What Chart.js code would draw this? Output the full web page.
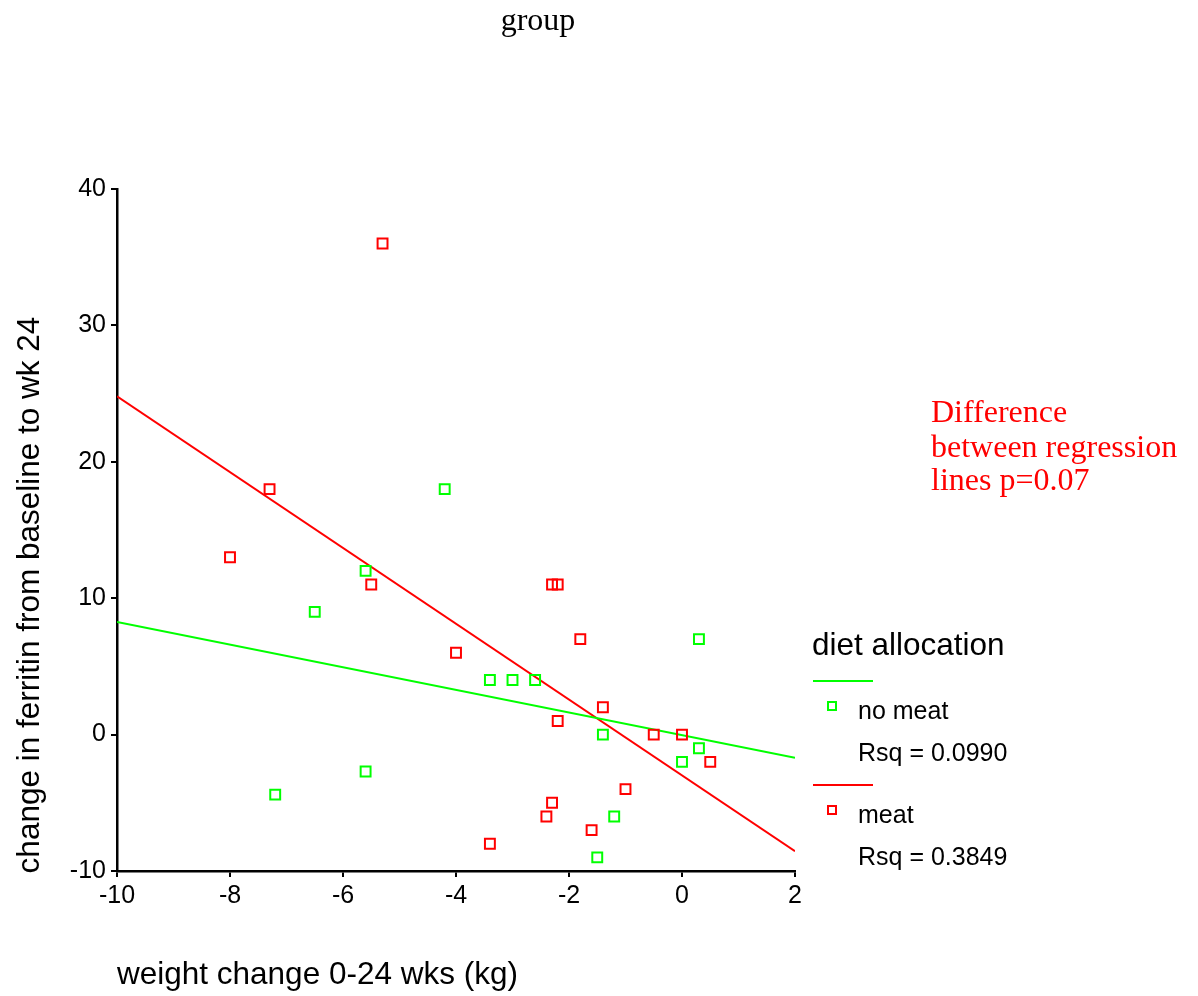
<!DOCTYPE html>
<html>
<head>
<meta charset="utf-8">
<script src="https://cdn.jsdelivr.net/npm/chart.js@4.4.1/dist/chart.umd.min.js"></script>
<style>
  html, body { margin: 0; padding: 0; background: #fff; }
  #wrap { width: 1198px; height: 996px; position: relative; }
</style>
</head>
<body>
<div id="wrap"><canvas id="chart" width="1198" height="996"></canvas></div>
<script>
// weight change (kg) and ferritin change
const noMeatX = [-4.2, -5.6, -6.5, 0.3, -3.4, -3.0, -2.6, -1.4, 0.3, 0.0, -5.6, -7.2, -1.2, -1.5];
const noMeatY = [18, 12, 9, 7, 4, 4, 4, 0, -1, -2, -2.7, -4.4, -6, -9];
const meatX = [-5.3, -7.3, -8.0, -5.5, -4.0, -2.3, -2.2, -1.8, -1.4, -2.2, -0.5, 0.0, 0.5, -1.0, -2.3, -2.4, -1.6, -3.4];
const meatY = [36, 18, 13, 11, 6, 11, 11, 7, 2, 1, 0, 0, -2, -4, -5, -6, -7, -8];

// fitted regression lines, end points at x = -10 and x = 2
const fitX = [-10, 2];
const noMeatFitY = [8.25, -1.7];
const meatFitY = [24.8, -8.55];

const xTicks = [-10, -8, -6, -4, -2, 0, 2];
const yTicks = [-10, 0, 10, 20, 30, 40];

const GREEN = '#00ff00';
const RED = '#ff0000';
const SANS = '"Liberation Sans", Arial, sans-serif';
const SERIF = '"Liberation Serif", "Times New Roman", serif';

const pts = (xs, ys) => xs.map((x, i) => ({ x: x, y: ys[i] }));

// titles, note and legend drawn on top
const textPlugin = {
  id: 'texts',
  afterDraw(chart) {
    const ctx = chart.ctx;
    ctx.save();
    ctx.fillStyle = '#000';
    ctx.textBaseline = 'alphabetic';

    ctx.font = '32px ' + SERIF;
    ctx.textAlign = 'center';
    ctx.fillText('group', 538, 30);

    ctx.fillStyle = RED;
    ctx.textAlign = 'left';
    ctx.font = '32px ' + SERIF;
    ctx.fillText('Difference', 931, 422);
    ctx.fillText('between regression', 931, 457);
    ctx.fillText('lines p=0.07', 931, 490);

    ctx.fillStyle = '#000';
    ctx.font = '31.5px ' + SANS;
    ctx.fillText('weight change 0-24 wks (kg)', 117, 984);

    ctx.save();
    ctx.translate(39, 595);
    ctx.rotate(-Math.PI / 2);
    ctx.textAlign = 'center';
    ctx.fillText('change in ferritin from baseline to wk 24', 0, 0);
    ctx.restore();

    // legend
    ctx.font = '31.5px ' + SANS;
    ctx.textBaseline = 'middle';
    ctx.fillText('diet allocation', 812, 646);
    const items = [
      { color: GREEN, label: 'no meat', rsq: 'Rsq = 0.0990', y: 681 },
      { color: RED, label: 'meat', rsq: 'Rsq = 0.3849', y: 785 }
    ];
    ctx.font = '25px ' + SANS;
    items.forEach(it => {
      ctx.strokeStyle = it.color;
      ctx.lineWidth = 2;
      ctx.beginPath();
      ctx.moveTo(813, it.y);
      ctx.lineTo(873, it.y);
      ctx.stroke();
      ctx.strokeRect(828, it.y + 21, 8, 8);
      ctx.fillStyle = '#000';
      ctx.fillText(it.label, 858, it.y + 31);
      ctx.fillText(it.rsq, 858, it.y + 73);
    });
    ctx.restore();
  }
};

new Chart(document.getElementById('chart'), {
  type: 'scatter',
  data: {
    datasets: [
      {
        label: 'no meat',
        data: pts(noMeatX, noMeatY),
        pointStyle: 'rect',
        pointRadius: 7,
        pointBorderWidth: 2,
        borderColor: GREEN,
        backgroundColor: 'rgba(0,0,0,0)'
      },
      {
        label: 'meat',
        data: pts(meatX, meatY),
        pointStyle: 'rect',
        pointRadius: 7,
        pointBorderWidth: 2,
        borderColor: RED,
        backgroundColor: 'rgba(0,0,0,0)'
      },
      {
        type: 'line',
        label: 'no meat fit',
        data: pts(fitX, noMeatFitY),
        borderColor: GREEN,
        borderWidth: 2,
        pointRadius: 0
      },
      {
        type: 'line',
        label: 'meat fit',
        data: pts(fitX, meatFitY),
        borderColor: RED,
        borderWidth: 2,
        pointRadius: 0
      }
    ]
  },
  options: {
    responsive: false,
    animation: false,
    layout: { padding: { left: 0, top: 189, right: 403, bottom: 0 } },
    plugins: { legend: { display: false }, tooltip: { enabled: false } },
    scales: {
      x: {
        type: 'linear',
        min: -10,
        max: 2,
        afterFit: s => { s.height = 125; },
        afterBuildTicks: s => { s.ticks = xTicks.map(v => ({ value: v })); },
        grid: { drawOnChartArea: false, drawTicks: true, tickLength: 6, color: '#000', lineWidth: 2 },
        border: { display: true, color: '#000', width: 2.5 },
        ticks: { color: '#000', padding: 4, font: { family: SANS, size: 25 }, maxRotation: 0 }
      },
      y: {
        min: -10,
        max: 40,
        afterFit: s => { s.width = 117; },
        afterBuildTicks: s => { s.ticks = yTicks.map(v => ({ value: v })); },
        grid: { drawOnChartArea: false, drawTicks: true, tickLength: 6, color: '#000', lineWidth: 2 },
        border: { display: true, color: '#000', width: 2.5 },
        ticks: { color: '#000', padding: 5, font: { family: SANS, size: 25 } }
      }
    }
  },
  plugins: [textPlugin]
});
</script>
</body>
</html>
